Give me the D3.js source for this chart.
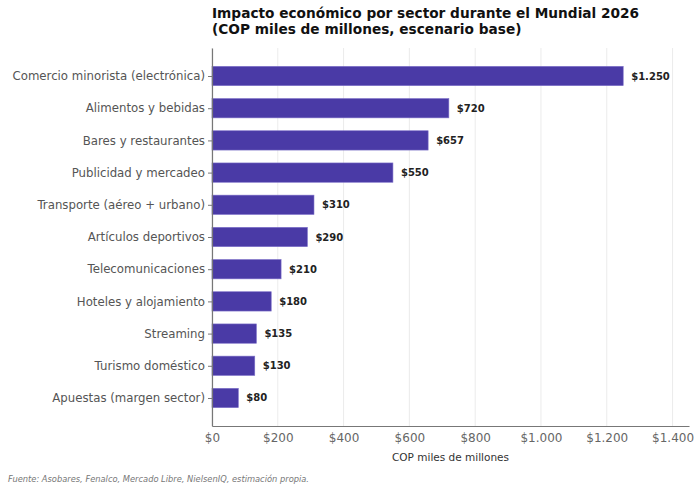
<!DOCTYPE html>
<meta charset="utf-8">
<style>
body { margin: 0; background: #fff; }
text { font-family: "DejaVu Sans", sans-serif; }
</style>
<body>
<script src="https://d3js.org/d3.v7.min.js"></script>
<script>

// data
var sectors = ["Comercio minorista (electrónica)", "Alimentos y bebidas", "Bares y restaurantes",
  "Publicidad y mercadeo", "Transporte (aéreo + urbano)", "Artículos deportivos",
  "Telecomunicaciones", "Hoteles y alojamiento", "Streaming", "Turismo doméstico",
  "Apuestas (margen sector)"];
var values = [1250, 720, 657, 550, 310, 290, 210, 180, 135, 130, 80];
var xTicks = [0, 200, 400, 600, 800, 1000, 1200, 1400];

var data = sectors.map(function(s, i) { return {sector: s, value: values[i]}; });

var W = 700, H = 491;
var margin = {top: 48, left: 212, right: 11, bottom: 65};
var width = W - margin.left - margin.right,
    height = H - margin.top - margin.bottom;

var es = d3.formatLocale({decimal: ",", thousands: ".", grouping: [3], currency: ["$", ""]});
var fmt = es.format("$,d");

var svg = d3.select("body").append("svg")
    .attr("width", W).attr("height", H);

var g = svg.append("g")
    .attr("transform", "translate(" + margin.left + "," + margin.top + ")");

var x = d3.scaleLinear().domain([0, 1250 * 1.16]).range([0, width]);

// categorical positions, bar slots padded like matplotlib
var n = sectors.length;
var y = d3.scaleLinear().domain([-0.87, (n - 1) + 0.87]).range([0, height]);
var barH = y(0.6) - y(0);

// grid
g.selectAll(".grid").data(xTicks).enter().append("line")
    .attr("x1", function(d) { return x(d); })
    .attr("x2", function(d) { return x(d); })
    .attr("y1", 0).attr("y2", height)
    .attr("stroke", "#e6e6e6").attr("stroke-width", 0.8);

// bars
g.selectAll(".bar").data(data).enter().append("rect")
    .attr("class", "bar")
    .attr("x", x(0))
    .attr("y", function(d, i) { return y(i) - barH / 2; })
    .attr("width", function(d) { return x(d.value) - x(0); })
    .attr("height", barH)
    .attr("fill", "#4a3aa6")
    .attr("stroke", "#7d70c8").attr("stroke-width", 0.6);

// value labels
g.selectAll(".val").data(data).enter().append("text")
    .attr("x", function(d) { return x(d.value) + 8; })
    .attr("y", function(d, i) { return y(i); })
    .attr("dy", "0.35em")
    .style("font-size", "10px")
    .style("font-weight", "bold")
    .attr("fill", "#222")
    .text(function(d) { return fmt(d.value); });

// x axis
var xAxis = g.append("g")
    .attr("transform", "translate(0," + height + ")")
    .call(d3.axisBottom(x).tickValues(xTicks).tickFormat(fmt).tickSize(0).tickPadding(7));
xAxis.select(".domain").attr("stroke", "#777").attr("stroke-width", 1.2);
xAxis.selectAll("text").style("font-size", "12px").attr("fill", "#666");

// y axis
var yAxis = g.append("g")
    .call(d3.axisLeft(y).tickValues(d3.range(n)).tickFormat(function(i) { return sectors[i]; })
      .tickSize(4).tickSizeOuter(0).tickPadding(3));
yAxis.select(".domain").attr("stroke", "#777").attr("stroke-width", 1.2);
yAxis.selectAll("line").attr("stroke", "#777");
yAxis.selectAll("text").style("font-size", "11.75px").attr("fill", "#555");

// axis label
svg.append("text")
    .attr("x", margin.left + width / 2)
    .attr("y", 461)
    .attr("text-anchor", "middle")
    .style("font-size", "10.5px")
    .attr("fill", "#333")
    .text("COP miles de millones");

// title, two lines
svg.append("text")
    .attr("x", margin.left).attr("y", 18)
    .style("font-size", "13.7px")
    .style("font-weight", "bold")
    .attr("fill", "#111")
    .text("Impacto económico por sector durante el Mundial 2026");
svg.append("text")
    .attr("x", margin.left).attr("y", 34)
    .style("font-size", "13.7px")
    .style("font-weight", "bold")
    .attr("fill", "#111")
    .text("(COP miles de millones, escenario base)");

// source
svg.append("text")
    .attr("x", 8).attr("y", 482)
    .style("font-size", "8.3px")
    .style("font-style", "italic")
    .attr("fill", "#777")
    .text("Fuente: Asobares, Fenalco, Mercado Libre, NielsenIQ, estimación propia.");

</script>
</body>
